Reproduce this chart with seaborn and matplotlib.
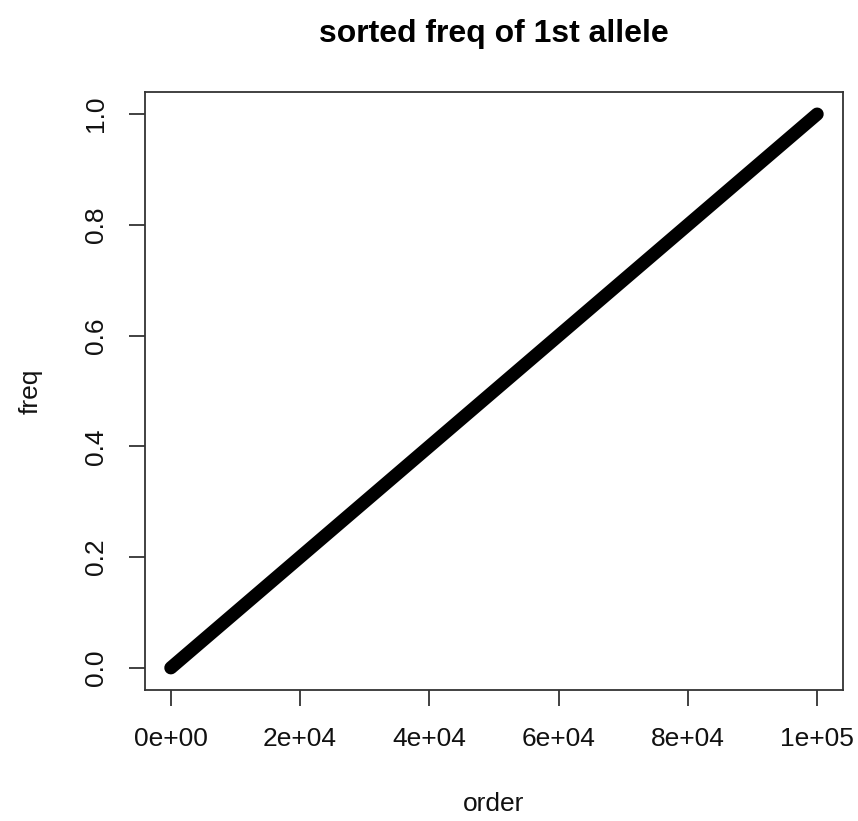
import pandas as pd
import matplotlib.pyplot as plt
import seaborn as sns

# valores (ordem x frequencia ordenada)
order = [0, 10000, 20000, 30000, 40000, 50000, 60000, 70000, 80000, 90000, 100000]
freq = [0.0, 0.1, 0.2, 0.3, 0.4, 0.5, 0.6, 0.7, 0.8, 0.9, 1.0]

x_ticks = [0, 20000, 40000, 60000, 80000, 100000]
x_labels = ['0e+00', '2e+04', '4e+04', '6e+04', '8e+04', '1e+05']
y_ticks = [0.0, 0.2, 0.4, 0.6, 0.8, 1.0]
y_labels = ['0.0', '0.2', '0.4', '0.6', '0.8', '1.0']

df = pd.DataFrame({'order': order, 'freq': freq})

sns.set_style('white')
plt.rcParams['font.family'] = ['Liberation Sans', 'DejaVu Sans']

fig = plt.figure(figsize=(8.58, 8.21), dpi=100)
ax = fig.add_axes([0.169, 0.1596, 0.8135, 0.7284])

sns.lineplot(x='order', y='freq', data=df, color='black', linewidth=9.5, ax=ax)
for l in ax.get_lines():
    l.set_solid_capstyle('round')

ax.set_xlim(-4000, 104000)
ax.set_ylim(-0.04, 1.04)
ax.set_xticks(x_ticks)
ax.set_xticklabels(x_labels)
ax.set_yticks(y_ticks)
ax.set_yticklabels(y_labels)
plt.setp(ax.get_yticklabels(), rotation=90, va='center')

for s in ax.spines.values():
    s.set_color('#333333')
    s.set_linewidth(1.3)
ax.tick_params(axis='both', direction='out', length=11.5, width=1.3, color='#333333',
               labelsize=19, pad=15, labelcolor='#111111', left=True, bottom=True)

ax.set_xlabel('order', fontsize=19, labelpad=30, color='#111111')
ax.set_ylabel('freq', fontsize=19, labelpad=30, color='#111111')
ax.set_title('sorted freq of 1st allele', fontsize=23, fontweight='bold', pad=36, color='black')

fig.savefig('out.png', dpi=100)
